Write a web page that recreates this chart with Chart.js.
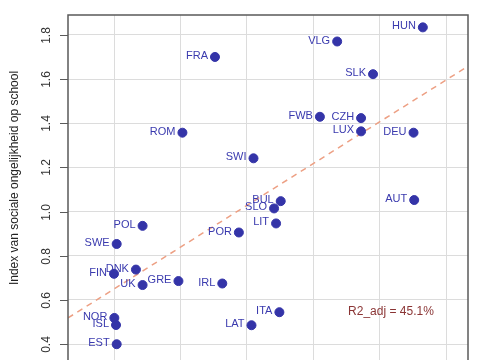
<!DOCTYPE html>
<html>
<head>
<meta charset="utf-8">
<script src="https://cdn.jsdelivr.net/npm/chart.js@4"></script>
<style>
  html, body { margin: 0; padding: 0; background: #fff; overflow: hidden; }
  .wrap { position: relative; width: 485px; height: 376px; }
</style>
</head>
<body>
<div class="wrap"><canvas id="chart"></canvas></div>
<script>
// Countries (labels) and their values
const countries = ['HUN', 'VLG', 'FRA', 'SLK', 'FWB', 'CZH', 'ROM', 'LUX', 'DEU', 'SWI',
  'BUL', 'AUT', 'SLO', 'LIT', 'POL', 'POR', 'SWE', 'DNK', 'FIN', 'GRE', 'IRL', 'UK',
  'ITA', 'NOR', 'ISL', 'LAT', 'EST'];
const xValues = [66.5, 53.6, 35.2, 59.0, 51.0, 57.2, 30.3, 57.2, 65.1, 41.0,
  45.1, 65.2, 44.1, 44.4, 24.3, 38.8, 20.4, 23.3, 20.0, 29.7, 36.3, 24.3,
  44.9, 20.05, 20.3, 40.7, 20.4];
const yValues = [1.834, 1.770, 1.700, 1.622, 1.429, 1.423, 1.357, 1.363, 1.357, 1.241,
  1.047, 1.052, 1.014, 0.946, 0.935, 0.905, 0.853, 0.737, 0.718, 0.685, 0.674, 0.667,
  0.544, 0.518, 0.486, 0.485, 0.399];

// Fitted line end points
const fitX = [13.07, 73.3];
const fitY = [0.518, 1.658];

const xGridValues = [20, 30, 40, 50, 60, 70];
const yTickValues = [0.4, 0.6, 0.8, 1.0, 1.2, 1.4, 1.6, 1.8];

const r2Text = 'R2_adj = 45.1%';
const r2Pos = { x: 61.7, y: 0.548 };
const yTitle = 'Index van sociale ongelijkheid op school';

const FONT = '"Liberation Sans", Arial, Helvetica, sans-serif';

const points = xValues.map((x, i) => ({ x: x, y: yValues[i] }));
const fitLine = fitX.map((x, i) => ({ x: x, y: fitY[i] }));

// draws plot box, tick marks, rotated y tick labels, axis title, point labels and R2 text
const extrasPlugin = {
  id: 'extras',
  afterDatasetsDraw(chart) {
    const ctx = chart.ctx;
    const area = chart.chartArea;
    const xs = chart.scales.x;
    const ys = chart.scales.y;
    const meta = chart.getDatasetMeta(1);

    ctx.save();
    ctx.font = '11px ' + FONT;
    ctx.fillStyle = '#3a3aae';
    ctx.textAlign = 'right';
    ctx.textBaseline = 'middle';
    meta.data.forEach((pt, i) => {
      ctx.fillText(countries[i], pt.x - 7, pt.y - 1);
    });

    ctx.font = '12px ' + FONT;
    ctx.fillStyle = '#8a3434';
    ctx.textAlign = 'center';
    ctx.fillText(r2Text, xs.getPixelForValue(r2Pos.x), ys.getPixelForValue(r2Pos.y));

    // plot box
    ctx.strokeStyle = '#5a5a5a';
    ctx.lineWidth = 1.5;
    ctx.strokeRect(area.left, area.top, area.right - area.left, area.bottom - area.top);

    // y tick marks and labels, rotated
    ctx.font = '12px ' + FONT;
    ctx.fillStyle = '#333';
    ctx.lineWidth = 1;
    ys.ticks.forEach(t => {
      const py = Math.round(ys.getPixelForValue(t.value)) + 0.5;
      ctx.beginPath();
      ctx.moveTo(area.left - 8, py);
      ctx.lineTo(area.left, py);
      ctx.stroke();
      ctx.save();
      ctx.translate(47, py);
      ctx.rotate(-Math.PI / 2);
      ctx.textAlign = 'center';
      ctx.textBaseline = 'middle';
      ctx.fillText(t.value.toFixed(1), 0, 0);
      ctx.restore();
    });

    // axis title
    ctx.save();
    ctx.translate(15, area.top + 163);
    ctx.rotate(-Math.PI / 2);
    ctx.textAlign = 'center';
    ctx.textBaseline = 'middle';
    ctx.font = '12px ' + FONT;
    ctx.fillStyle = '#222';
    ctx.fillText(yTitle, 0, 0);
    ctx.restore();
    ctx.restore();
  }
};

const ctx = document.getElementById('chart').getContext('2d');
new Chart(ctx, {
  type: 'scatter',
  data: {
    datasets: [
      {
        type: 'line',
        data: fitLine,
        borderColor: '#eda084',
        borderWidth: 1.5,
        borderDash: [6, 5],
        pointRadius: 0,
        fill: false,
        order: 1
      },
      {
        data: points,
        backgroundColor: '#3434a8',
        borderColor: '#3434a8',
        pointRadius: 4.5,
        order: 0
      }
    ]
  },
  options: {
    responsive: true,
    maintainAspectRatio: false,
    animation: false,
    layout: { padding: { top: 15, right: 17, bottom: 0, left: 0 } },
    plugins: {
      legend: { display: false },
      tooltip: { enabled: false }
    },
    scales: {
      x: {
        type: 'linear',
        min: 13.07,
        max: 73.3,
        afterBuildTicks: scale => { scale.ticks = xGridValues.map(v => ({ value: v })); },
        ticks: { display: false },
        grid: { color: '#dcdcdc', lineWidth: 1, drawTicks: false },
        border: { display: false }
      },
      y: {
        min: 0.28,
        max: 1.89,
        afterBuildTicks: scale => { scale.ticks = yTickValues.map(v => ({ value: v })); },
        afterFit: scale => { scale.width = 68; },
        ticks: { display: false },
        grid: { color: '#dcdcdc', lineWidth: 1, drawTicks: false },
        border: { display: false }
      }
    }
  },
  plugins: [extrasPlugin]
});
</script>
</body>
</html>
